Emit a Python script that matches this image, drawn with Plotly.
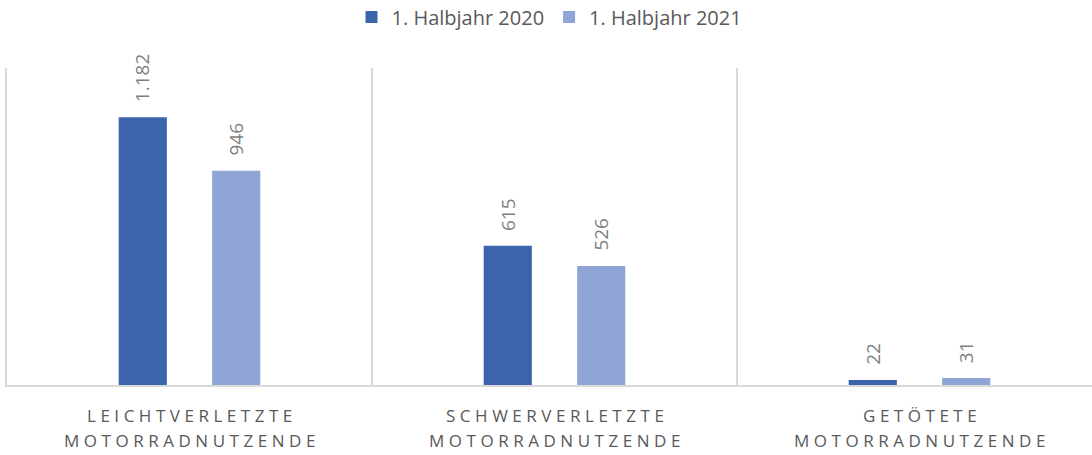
import plotly.graph_objects as go

categories = ["LEICHTVERLETZTE MOTORRADNUTZENDE",
              "SCHWERVERLETZTE MOTORRADNUTZENDE",
              "GETÖTETE MOTORRADNUTZENDE"]
series_names = ["1. Halbjahr 2020", "1. Halbjahr 2021"]
values_2020 = [1182, 615, 22]
values_2021 = [946, 526, 31]

colors = ["#3c64ac", "#8fa5d5"]
bar_width = 0.132
offsets = [-0.194, 0.062]
GRAY = "#595959"
LINE = "#d9d9d9"

W, H = 1092, 455
M_LEFT, M_TOP, M_BOTTOM = 7, 68, 70
BAND_PX = 365  # Breite einer Kategorie in Pixel


def spaced(word: str) -> str:
    """Sperrschrift nachbilden: Buchstaben mit Abstand."""
    return "\u2009\u200a".join(word)


fig = go.Figure()
annotations = []
for name, vals, color, off in zip(series_names, [values_2020, values_2021], colors, offsets):
    fig.add_bar(
        x=categories,
        y=vals,
        name=name,
        marker={"color": color, "line": {"width": 0}},
        width=bar_width,
        offset=off,
    )
    # Datenbeschriftung, um 90° gedreht, mit Abstand über dem Balken
    for i, v in enumerate(vals):
        annotations.append({
            "x": i + off + bar_width / 2,
            "y": v,
            "xref": "x",
            "yref": "y",
            "text": f"{v:,}".replace(",", "."),
            "textangle": -90,
            "showarrow": False,
            "xanchor": "center",
            "yanchor": "bottom",
            "yshift": 13,
            "font": {"size": 19, "color": "#7f7f7f"},
        })

# Kategoriebeschriftung in zwei Zeilen unter der Achse
for i, cat in enumerate(categories):
    for line_no, word in enumerate(cat.split(" ")):
        annotations.append({
            "x": i,
            "y": 0,
            "xref": "x",
            "yref": "y",
            "yshift": -30 - 25 * line_no,
            "text": spaced(word),
            "showarrow": False,
            "xanchor": "center",
            "yanchor": "middle",
            "font": {"size": 17, "color": GRAY},
        })

fig.update_layout(
    width=W,
    height=H,
    margin={"l": M_LEFT, "r": 0, "t": M_TOP, "b": M_BOTTOM, "autoexpand": False},
    paper_bgcolor="white",
    plot_bgcolor="white",
    font={"family": "Open Sans", "color": GRAY},
    barmode="group",
    showlegend=True,
    annotations=annotations,
    legend={
        "orientation": "h",
        "x": 0.5,
        "xanchor": "center",
        "yref": "container",
        "y": 1 - 17 / H,
        "yanchor": "middle",
        "font": {"size": 20, "color": GRAY},
        "itemwidth": 30,
    },
    xaxis={
        "type": "category",
        "tickson": "boundaries",
        "showgrid": True,
        "gridcolor": LINE,
        "gridwidth": 2,
        "showline": True,
        "linecolor": LINE,
        "linewidth": 2,
        "ticks": "",
        "showticklabels": False,
        "range": [-0.5, -0.5 + (W - M_LEFT) / BAND_PX],
        "automargin": False,
    },
    yaxis={
        "range": [0, 1400],
        "showticklabels": False,
        "showgrid": False,
        "zeroline": False,
        "showline": True,
        "linecolor": LINE,
        "linewidth": 2,
        "ticks": "",
    },
)

# Standard-Seitenrand des Browsers entfernen, damit die Grafik bei (0, 0) beginnt
fig.write_html(
    "out.html",
    config={"displayModeBar": False},
    post_script="document.body.style.margin = '0';",
)
